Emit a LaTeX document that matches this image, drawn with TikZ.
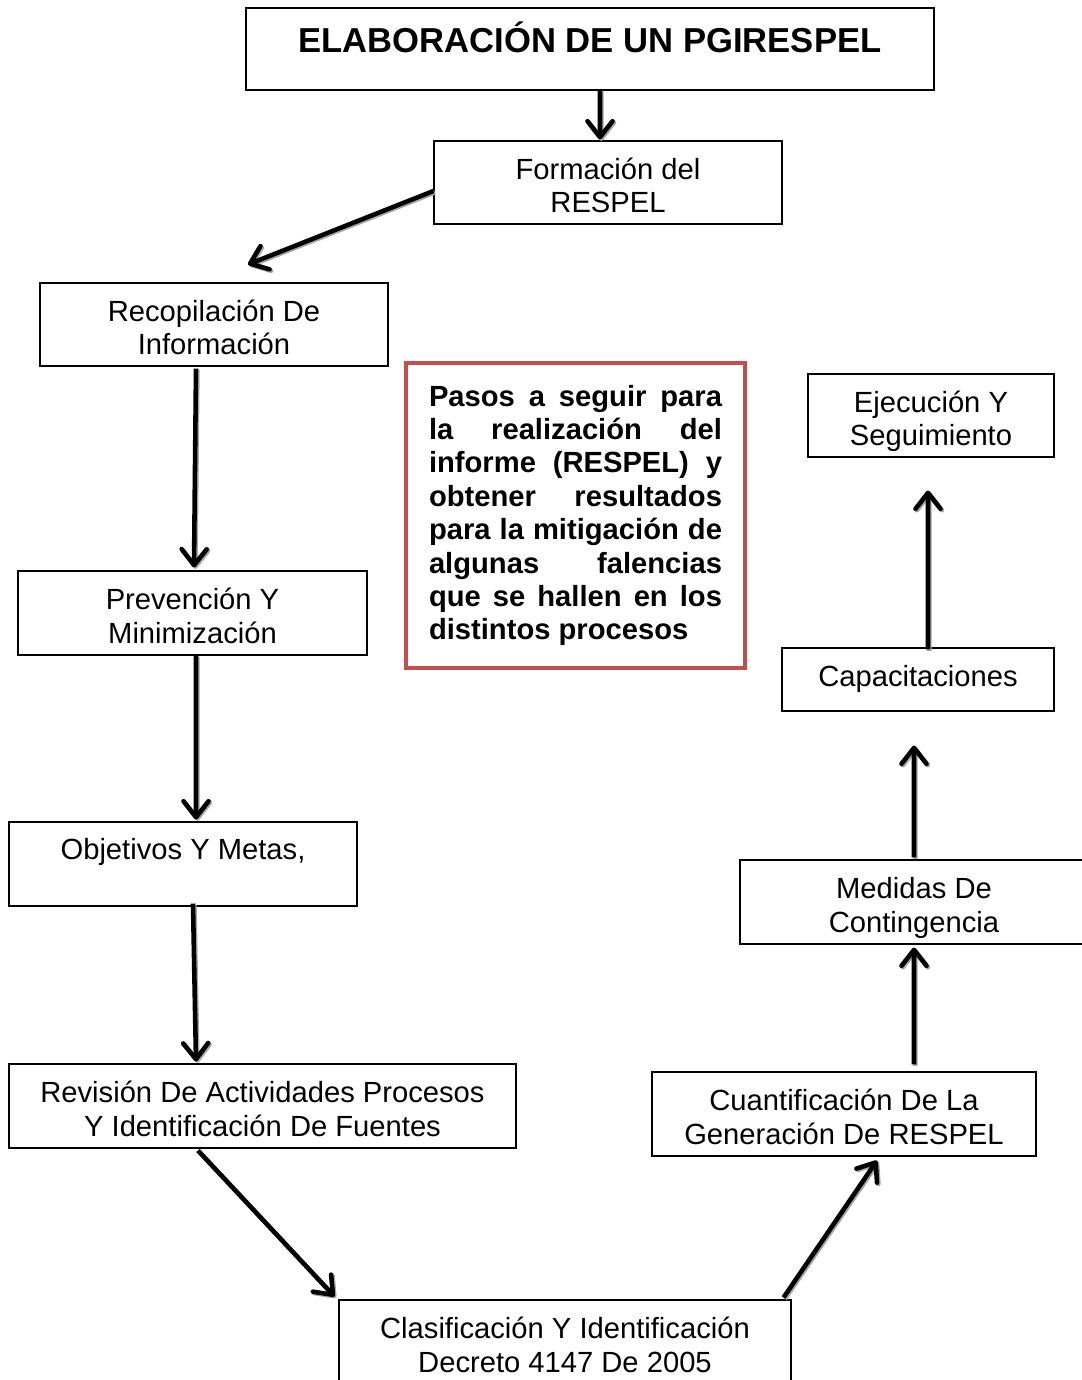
\documentclass[tikz,border=0pt]{standalone}
\usepackage{fontspec}
\setmainfont{Liberation Sans}
\usetikzlibrary{positioning,arrows.meta}
\definecolor{rojonota}{HTML}{C0504D}

\begin{document}
\begin{tikzpicture}[-{Straight Barb[length=3.2mm,width=5mm,round]}, on grid,
font=\fontsize{16.6}{19.2}\selectfont,
paso/.style ={ rectangle, draw, line width=0.6pt, align=center, inner sep=0pt,
minimum width=6.96cm, minimum height=1.66cm, text height=34.6pt, text depth=0pt},
nota/.style ={ rectangle, draw=rojonota, line width=2pt, align=justify,
text width=5.86cm, minimum width=6.78cm, minimum height=6.1cm,
font=\fontsize{16.6}{19}\selectfont\bfseries},
flecha/.style ={line width=2.6pt, every edge/.append style={preaction={draw=black!35,
transform canvas={xshift=0.8pt,yshift=-0.8pt}}}}]
\useasboundingbox (0,0) rectangle (21.62,-27.6);
\node[paso, minimum width=13.76cm, minimum height=1.64cm, text height=18.3pt, text depth=0.5cm,
font=\fontsize{19.7}{22}\selectfont\bfseries] (titulo) at (11.8,-0.98) {ELABORACIÓN DE UN PGIRESPEL};
\node[paso] (formacion) [below right=2.67cm and 0.36cm of titulo] {Formación del\\RESPEL};
\node[paso] (recopilacion) [below left=2.84cm and 7.88cm of formacion] {Recopilación De\\Información};
\node[paso, minimum width=6.98cm, minimum height=1.68cm] (prevencion) [below left=5.77cm and 0.43cm of recopilacion] {Prevención Y\\Minimización};
\node[paso, minimum height=1.68cm, text height=13.2pt, text depth=18.4pt] (objetivos) [below left=5.02cm and 0.19cm of prevencion] {Objetivos Y Metas,};
\node[paso, minimum width=10.14cm, minimum height=1.68cm] (revision) [below right=4.84cm and 1.59cm of objetivos] {Revisión De Actividades Procesos\\Y Identificación De Fuentes};
\node[paso, minimum width=9.04cm, minimum height=1.68cm] (clasificacion) [below right=4.72cm and 6.05cm of revision] {Clasificación Y Identificación\\Decreto 4147 De 2005};
\node[paso, minimum width=7.68cm, minimum height=1.68cm] (cuantificacion) [above right=4.56cm and 5.58cm of clasificacion] {Cuantificación De La\\Generación De RESPEL};
\node[paso, minimum height=1.68cm] (medidas) [above right=4.24cm and 1.4cm of cuantificacion] {Medidas De\\Contingencia};
\node[paso, minimum width=5.44cm, minimum height=1.26cm, text height=12pt, text depth=3.5pt] (capacitaciones) [above right=4.45cm and 0.08cm of medidas] {Capacitaciones};
\node[paso, minimum width=4.92cm] (ejecucion) [above right=5.28cm and 0.26cm of capacitaciones] {Ejecución Y\\Seguimiento};
\node[nota] (pasos) [below left=6.66cm and 0.65cm of formacion] {Pasos a seguir para\linebreak
la realización del\linebreak informe (RESPEL) y\linebreak obtener resultados\linebreak
para la mitigación de\linebreak algunas falencias\linebreak que se hallen en los\linebreak
distintos procesos};

\path[flecha] ([xshift=2mm]titulo.south) edge ([xshift=-1.6mm,yshift=0.2mm]formacion.north);
\path[flecha] ([yshift=-1.7mm]formacion.west) edge ([xshift=6.8mm,yshift=3.6mm]recopilacion.north);
\path[flecha] ([xshift=-3.6mm,yshift=-0.4mm]recopilacion.south) edge ([xshift=0.3mm,yshift=0.6mm]prevencion.north);
\path[flecha] ([xshift=0.7mm]prevencion.south) edge ([xshift=2.6mm,yshift=0.4mm]objetivos.north);
\path[flecha] ([xshift=2mm,yshift=0.6mm]objetivos.south) edge ([xshift=-13.3mm,yshift=0.4mm]revision.north);
\path[flecha] ([xshift=-12.9mm,yshift=-0.4mm]revision.south) edge ([xshift=-0.8mm,yshift=0.6mm]clasificacion.north west);
\path[flecha] ([xshift=-1.6mm,yshift=0.4mm]clasificacion.north east) edge ([xshift=6.6mm,yshift=-0.8mm]cuantificacion.south);
\path[flecha] ([xshift=14mm,yshift=1.4mm]cuantificacion.north) edge ([yshift=-0.6mm]medidas.south);
\path[flecha] ([yshift=0.4mm]medidas.north) edge ([xshift=-0.8mm,yshift=-6.8mm]capacitaciones.south);
\path[flecha] ([xshift=2mm,yshift=-0.4mm]capacitaciones.north) edge ([xshift=-0.6mm,yshift=-6.6mm]ejecucion.south);
\end{tikzpicture}
\end{document}
